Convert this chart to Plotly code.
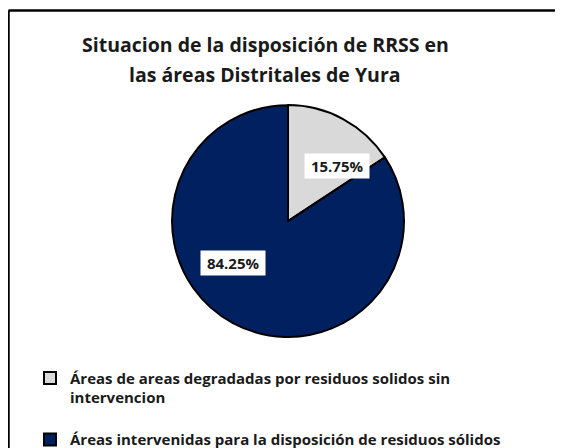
import plotly.graph_objects as go

# data
categorias = [
    "Áreas de areas degradadas por residuos solidos sin<br>intervencion<br> ",
    "Áreas intervenidas para la disposición de residuos sólidos",
]
porcentajes = [15.75, 84.25]
colores = ["#D9D9D9", "#002060"]
titulo = ["Situacion de la disposición de RRSS en",
          "las áreas Distritales de Yura"]

W, H = 563, 448
FONT = "Open Sans"
TXT = "#1a1a1a"


def fx(px_):
    return px_ / W


def fy(py_):
    return 1 - py_ / H


fig = go.Figure(go.Pie(
    labels=["<b>%s</b>" % c for c in categorias],
    values=porcentajes,
    sort=False,
    direction="clockwise",
    rotation=0,
    marker=dict(colors=colores, line=dict(color="black", width=2)),
    textinfo="none",
    hoverinfo="label+percent",
    domain=dict(x=[fx(163), fx(397)], y=[fy(332), fy(98)]),
))

# etiquetas con caja blanca
pos_etiquetas = [(329, 146), (224.5, 257.5)]
for v, (ex, ey) in zip(porcentajes, pos_etiquetas):
    fig.add_annotation(
        x=fx(ex), y=fy(ey), xref="paper", yref="paper",
        text="<b> %.2f%% </b>" % v, showarrow=False,
        bgcolor="white", borderpad=2,
        font=dict(family=FONT, size=15, color=TXT),
    )

# titulo en dos lineas
for linea, ty in zip(titulo, [37, 67]):
    fig.add_annotation(
        x=fx(257), y=fy(ty), xref="paper", yref="paper",
        text="<b>%s</b>" % linea, showarrow=False,
        xanchor="center", yanchor="middle",
        font=dict(family=FONT, size=19.5, color=TXT),
    )

# marco del grafico (solo borde superior e izquierdo visibles)
fig.add_shape(type="line", xref="paper", yref="paper",
              x0=fx(0.5), x1=1.2, y0=fy(2.5), y1=fy(2.5),
              line=dict(color="black", width=2.5))
fig.add_shape(type="line", xref="paper", yref="paper",
              x0=fx(0.5), x1=fx(0.5), y0=-0.2, y1=fy(2.5),
              line=dict(color="black", width=2.5))

fig.update_layout(
    width=W, height=H,
    margin=dict(l=0, r=0, t=0, b=0),
    paper_bgcolor="white",
    legend=dict(x=fx(22), y=fy(357), xanchor="left", yanchor="top",
                font=dict(family=FONT, size=15, color=TXT),
                itemwidth=30, valign="top"),
    showlegend=True,
)

fig.write_html("out.html")
